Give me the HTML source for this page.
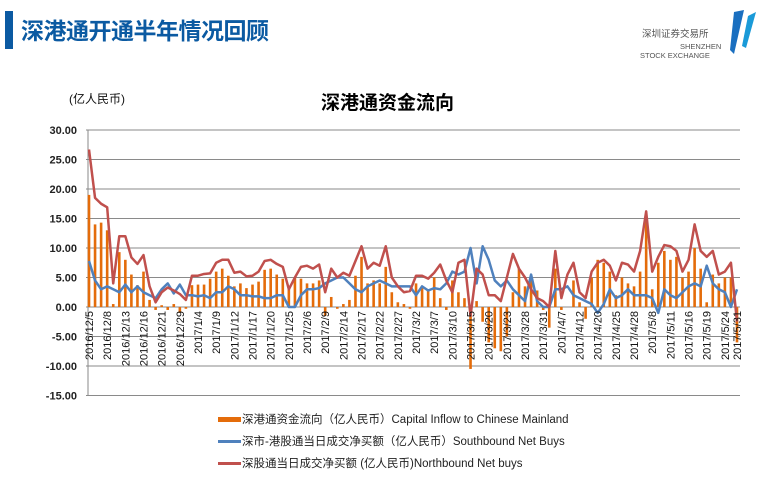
<!DOCTYPE html>
<html><head><meta charset="utf-8">
<style>
body{margin:0;width:781px;height:479px;background:#fff;overflow:hidden;font-family:"Liberation Sans","Noto Sans CJK SC",sans-serif;position:relative}
.abs{position:absolute}
</style></head>
<body>
<div class="abs" style="left:5px;top:11px;width:8px;height:38px;background:#0b5aa2"></div>
<div class="abs" style="left:21px;top:12px;font-size:23px;font-weight:bold;color:#0b5aa2;letter-spacing:-0.5px">深港通开通半年情况回顾</div>
<div class="abs" style="left:640px;top:8px;width:135px;height:50px">
  <div class="abs" style="left:2px;top:18px;font-size:9.5px;color:#555">深圳证券交易所</div>
  <div class="abs" style="left:40px;top:34px;font-size:7.5px;color:#555">SHENZHEN</div>
  <div class="abs" style="left:0px;top:43px;font-size:7.5px;color:#555">STOCK EXCHANGE</div>
  <svg class="abs" style="left:82px;top:0" width="45" height="48"><path d="M12 4 L22 2 L12 46 L8 42 Z" fill="#1a6fc0"/><path d="M26 8 L34 4 L24 40 L20 38 Z" fill="#1a9ad8"/></svg>
</div>
<div class="abs" style="left:69px;top:90px;font-size:12px;color:#111">(亿人民币)</div>
<div class="abs" style="left:321px;top:88px;font-size:19px;font-weight:bold;color:#000">深港通资金流向</div>
<svg class="abs" style="left:0;top:0" width="781" height="479" id="chart"></svg>
<div class="abs" style="left:218px;top:409px;font-size:11.5px;color:#222;line-height:22px">
  <div><span style="display:inline-block;width:23px;height:5px;background:#e46c0a;vertical-align:middle;margin-right:1px"></span>深港通资金流向（亿人民币）Capital Inflow to Chinese Mainland</div>
  <div><span style="display:inline-block;width:23px;height:3px;background:#4f81bd;vertical-align:middle;margin-right:1px"></span>深市-港股通当日成交净买额（亿人民币）Southbound Net Buys</div>
  <div><span style="display:inline-block;width:23px;height:3px;background:#c0504d;vertical-align:middle;margin-right:1px"></span>深股通当日成交净买额 (亿人民币)Northbound Net buys</div>
</div>
<script>
const yTicks=[30,25,20,15,10,5,0,-5,-10,-15];
const xLabels=["2016/12/5","2016/12/8","2016/12/13","2016/12/16","2016/12/21","2016/12/29","2017/1/4","2017/1/9","2017/1/12","2017/1/17","2017/1/20","2017/1/25","2017/2/6","2017/2/9","2017/2/14","2017/2/17","2017/2/22","2017/2/27","2017/3/2","2017/3/7","2017/3/10","2017/3/15","2017/3/20","2017/3/23","2017/3/28","2017/3/31","2017/4/7","2017/4/12","2017/4/20","2017/4/25","2017/4/28","2017/5/8","2017/5/11","2017/5/16","2017/5/19","2017/5/24","2017/5/31"];
const northbound=[26.7,18.5,17.5,16.9,4.0,12.0,12.0,8.4,7.3,8.8,3.5,0.8,
2.5,3.3,2.8,2.2,1.2,5.3,5.3,5.6,5.7,7.5,8.0,8.0,
5.8,6.0,5.2,5.3,6.0,7.8,8.0,7.3,6.8,3.0,5.0,6.8,
7.0,6.5,7.2,2.5,6.5,5.0,5.8,5.3,7.8,10.3,6.5,7.5,
7.0,10.3,5.0,3.5,2.5,2.7,5.3,5.3,4.8,5.8,7.2,4.5,
2.5,7.5,8.0,-1.5,6.5,5.5,2.0,2.0,1.0,5.0,9.0,6.5,
5.0,3.0,1.5,1.0,0.0,9.5,1.5,5.5,7.5,2.5,1.5,6.0,
7.5,8.0,7.0,4.5,7.5,7.2,6.0,9.5,16.2,6.0,8.5,10.5,
10.3,9.5,6.0,8.0,14.0,9.5,8.5,9.5,5.5,6.0,7.5,-2.5];
const southbound=[7.8,4.5,3.0,3.5,3.0,2.5,3.8,2.5,3.5,2.5,2.0,1.5,
3.0,4.0,2.3,3.8,2.0,2.0,1.8,2.0,1.5,2.5,2.5,3.5,
3.0,2.0,2.0,1.8,1.8,1.5,1.5,2.0,2.0,0.0,0.0,2.0,
3.0,3.0,3.2,4.0,4.5,5.0,5.0,4.0,3.0,2.5,3.5,4.0,
4.5,4.0,3.5,3.5,3.5,3.5,2.0,3.5,2.8,3.2,3.0,4.0,
6.0,5.5,6.0,10.0,4.0,10.3,8.0,4.5,3.5,4.5,3.0,2.0,
1.0,5.5,1.0,0.0,0.0,3.0,3.0,3.5,2.0,1.5,1.0,0.5,
-1.0,0.5,3.0,1.5,2.0,3.0,2.0,2.0,2.0,1.5,-1.0,3.0,
2.0,1.5,2.5,3.5,4.0,3.5,7.0,4.0,3.0,2.5,0.0,3.0];
const inflow=[19.0,14.0,14.3,13.0,0.5,9.3,8.0,5.5,3.7,6.0,1.2,-0.5,
0.3,-0.5,0.5,-1.0,-0.3,3.7,3.8,3.8,4.8,6.0,6.5,5.3,
3.5,4.0,3.2,3.8,4.3,6.3,6.5,5.5,4.8,3.0,5.0,4.8,
4.0,4.0,4.5,-1.5,1.7,-0.3,0.5,1.2,5.3,8.5,4.0,4.5,
4.0,6.8,2.5,0.8,0.5,-0.3,4.0,3.5,3.0,5.0,1.5,-0.5,
4.5,2.5,1.5,-10.5,1.0,-2.5,-6.0,-7.0,-7.5,-5.0,2.5,6.5,
3.5,4.5,2.8,-0.5,-3.5,6.5,-0.5,0.0,4.5,0.8,-2.0,5.0,
8.0,7.5,6.0,2.0,5.0,4.0,3.5,6.0,15.0,3.0,7.5,9.5,
8.0,8.5,5.0,6.0,10.0,6.5,0.8,5.5,4.0,5.0,5.0,-6.0];

const svg=document.getElementById('chart');
const NS='http://www.w3.org/2000/svg';
const X0=89,X1=737,Y30=130,Y0=307;
const N=northbound.length;
function xs(i){return X0+(X1-X0)*i/(N-1);}
function ys(v){return Y0-(Y0-Y30)*v/30;}
function mk(t,a){const e=document.createElementNS(NS,t);for(const k in a)e.setAttribute(k,a[k]);svg.appendChild(e);return e;}

yTicks.forEach(v=>{
  const g=mk('line',{x1:86,x2:740,y1:ys(v),y2:ys(v),stroke:'#8a8a8a','stroke-width':1});
  
  
  const t=mk('text',{x:77,y:ys(v)+4,'text-anchor':'end','font-size':11,'font-weight':'bold',fill:'#222','font-family':'Liberation Sans, sans-serif'});
  t.textContent=v.toFixed(2);
  
  
});
const ax=mk('line',{x1:88,x2:88,y1:ys(30),y2:ys(-15),stroke:'#8a8a8a','stroke-width':1});



inflow.forEach((v,i)=>{
  const y=Math.min(ys(v),ys(0)),h=Math.abs(ys(v)-ys(0));
  const r=mk('rect',{x:xs(i)-1.3,y:y,width:2.6,height:h,fill:'#e46c0a'});
  
  
});
function line(arr,col,name){
  const p=mk('polyline',{points:arr.map((v,i)=>xs(i)+','+ys(v)).join(' '),fill:'none',stroke:col,'stroke-width':2.5,'stroke-linejoin':'round'});
  
  
}
line(southbound,'#4f81bd','southbound-line');
line(northbound,'#c0504d','northbound-line');

xLabels.forEach((s,k)=>{
  const i=Math.min(k*3,N-1);
  const x=xs(i)+4;
  const t=mk('text',{x:0,y:0,transform:`translate(${x},${ys(0)+4}) rotate(-90)`,'text-anchor':'end','font-size':11,fill:'#111','font-family':'Liberation Sans, sans-serif'});
  t.textContent=s;
  
  
});
</script>
</body></html>
